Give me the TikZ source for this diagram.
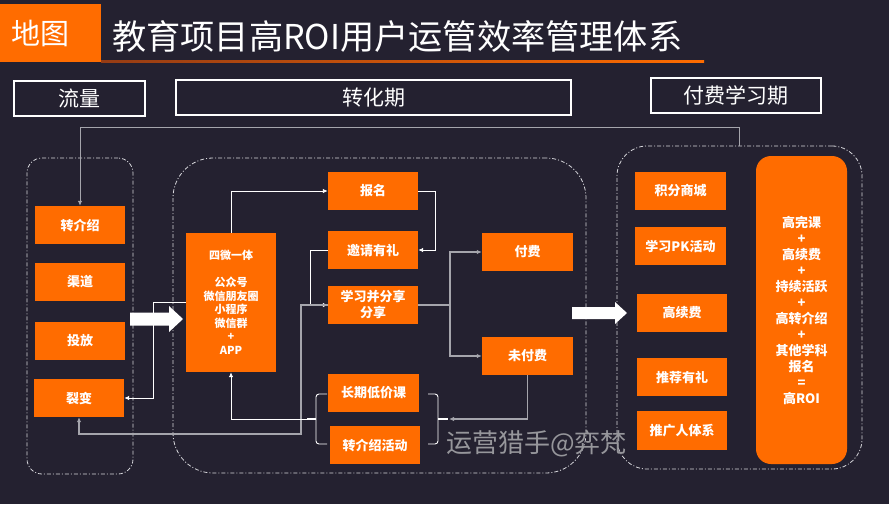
\documentclass[tikz,border=0pt]{standalone}
\usepackage{fontspec}
\setmainfont{Noto Sans CJK SC}
\usetikzlibrary{arrows.meta}
\definecolor{bgc}{RGB}{36,33,48}
\definecolor{org}{RGB}{255,108,0}
\definecolor{orgd}{RGB}{150,60,20}
\definecolor{dsh}{RGB}{215,215,220}
\definecolor{lg}{RGB}{165,165,172}
\definecolor{wm}{RGB}{150,150,155}
\begin{document}
\begin{tikzpicture}[x=1pt,y=-1pt,
  ob/.style={fill=org,text=white,font=\bfseries\fontsize{13}{16}\selectfont,inner sep=0pt,align=center,minimum width=90pt,minimum height=38pt},
  grp/.style={draw=dsh,line width=0.8pt,dash pattern=on 4pt off 2pt on 1pt off 2pt,inner sep=0pt},
  hdr/.style={draw=white,line width=1.2pt,text=white,font=\fontsize{21}{24}\selectfont,inner sep=0pt},
  cw/.style={draw=white,line width=0.9pt,-{Latex[length=5pt,width=4.5pt]}},
  cg/.style={draw=lg,line width=1.2pt,-{Latex[length=5pt,width=4.5pt]}},
  brc/.style={draw=white,line width=0.9pt,rounded corners=3pt},
  bigarrow/.style={fill=white}]
\useasboundingbox (0,0) rectangle (889,504);
\fill[bgc] (0,0) rectangle (889,504);

% title
\node[fill=org,minimum width=101pt,minimum height=58pt,inner sep=0pt] (tbox) at (50.5,33) {};
\node[text=white,font=\fontsize{29}{32}\selectfont,anchor=west] (tmap) at (8,33) {地图};
\shade[left color=orgd,right color=org] (101,60.5) rectangle (704,62.5);
\node[text=white,font=\fontsize{34.2}{37}\selectfont,anchor=west,inner sep=0pt] (title) at (112,36) {教育项目高ROI用户运管效率管理体系};

% headers
\node[hdr,minimum width=131pt,minimum height=35pt] (h1) at (79.5,98.5) {流量};
\node[hdr,minimum width=395pt,minimum height=35pt] (h2) at (373.5,97.5) {转化期};
\node[hdr,minimum width=170pt,minimum height=35pt] (h3) at (736,95.5) {付费学习期};

% groups
\node[grp,rounded corners=15pt,minimum width=106pt,minimum height=316pt] (lgp) at (80,316) {};
\node[grp,rounded corners=40pt,minimum width=413pt,minimum height=315pt] (mgp) at (379.5,315.5) {};
\node[grp,rounded corners=30pt,minimum width=245pt,minimum height=323pt] (rgp) at (739.5,307.5) {};

% left nodes
\node[ob] (zj) at (80,225) {转介绍};
\node[ob] (qd) at (80,282) {渠道};
\node[ob] (tf) at (80,341) {投放};
\node[ob] (lb) at (79,398) {裂变};

% middle nodes
\node[ob,minimum height=139pt,font=\bfseries\fontsize{11}{13.5}\selectfont] (sw) at (231,302.5) {四微一体\\[13.5pt]公众号\\微信朋友圈\\小程序\\微信群\\+\\APP};
\node[ob] (bm) at (373,191) {报名};
\node[ob] (yq) at (373,250) {邀请有礼};
\node[ob] (xx) at (373,305) {学习并分享\\分享};
\node[ob,minimum width=91pt] (ff) at (527.5,252) {付费};
\node[ob,minimum width=91pt] (wf) at (527.5,356) {未付费};
\node[ob,minimum width=91pt] (cq) at (373.5,393) {长期低价课};
\node[ob] (zh) at (375,445) {转介绍活动};

% right nodes
\node[ob,minimum width=91pt] (jf) at (680.5,191) {积分商城};
\node[ob,minimum width=91pt] (pk) at (680.5,246) {学习PK活动};
\node[ob] (gx) at (682,313) {高续费};
\node[ob] (tj) at (682,377) {推荐有礼};
\node[ob,minimum height=39pt] (tg) at (682,430.5) {推广人体系};
\node[ob,rounded corners=15pt,minimum width=91pt,minimum height=308pt,font=\bfseries\fontsize{13}{16}\selectfont] (roi) at (801.5,310)
  {高完课\\+\\高续费\\+\\持续活跃\\+\\高转介绍\\+\\其他学科\\报名\\=\\高ROI};

% braces
\draw[brc] (327,394) -- (316,394) -- (316,444) -- (327,444);
\draw[draw=white,line width=1.8pt] (316,419) -- (307,419);
\coordinate (lbt) at (307,419);
\draw[brc] (428,394) -- (438,394) -- (438,444) -- (428,444);
\draw[draw=white,line width=1.8pt] (438,419) -- (448,419);
\coordinate (rbt) at (449,419);

% connectors
\draw[cw] (sw.north) |- (bm.west);
\draw[cw] (bm.east) -- ++(17,0) |- (yq.east);
\draw[cw] (yq.west) -- ++(-17,0) |- (xx.west);
\draw[cg] (xx.west) -| (301,434) -| (lb.south);
\draw[cw] (sw.west) -- ++(-32,0) |- (lb.east);
\draw[cg] (xx.east) -- (450,305) |- (ff.west);
\draw[cg] (450,305) |- (wf.west);
\draw[cg] (wf.south) |- (rbt);
\draw[cw] (lbt) -| (sw.south);
\draw[cg,line width=1pt] (rgp.north) -- ++(0,-18) -| (zj.north);

% big arrows
\fill[bigarrow] (130,312.5) -- (169,312.5) -- (169,306) -- (183,319) -- (169,332) -- (169,325.5) -- (130,325.5) -- cycle;
\fill[bigarrow] (572,307) -- (615,307) -- (615,302) -- (627,313) -- (615,324) -- (615,319) -- (572,319) -- cycle;

% watermark
\node[text=wm,font=\fontsize{26}{29}\selectfont,anchor=west,inner sep=0pt] (wmk) at (446,444) {运营猎手@弈梵};
\end{tikzpicture}
\end{document}
